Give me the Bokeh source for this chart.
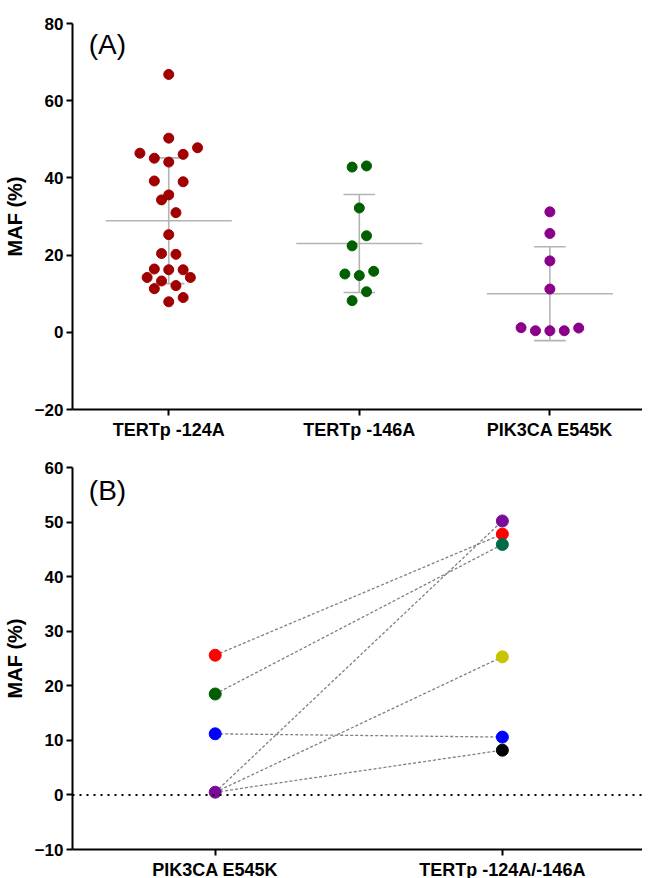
from bokeh.plotting import figure
from bokeh.layouts import column
from bokeh.models import Range1d, FixedTicker, Label, Span, ColumnDataSource
from bokeh.embed import file_html
from bokeh.resources import INLINE

# ---------------- Data: panel A ----------------
categories_a = ["TERTp -124A", "TERTp -146A", "PIK3CA E545K"]
tert124 = [66.8, 50.3, 47.8, 46.4, 46.1, 45.1, 44.1, 39.2, 39.0, 35.6, 34.3, 31.0, 25.3,
           20.4, 20.2, 16.4, 16.2, 16.2, 14.2, 14.2, 13.3, 12.1, 11.3, 9.0, 7.9]
tert146 = [43.1, 42.8, 32.2, 25.0, 22.4, 15.8, 15.1, 14.7, 10.5, 8.2]
pik3ca = [31.2, 25.6, 18.5, 11.2, 1.2, 1.1, 0.4, 0.4, 0.4]
means_a = [28.9, 23.0, 10.0]
sds_a = [16.3, 12.7, 12.15]
# swarm slot of each dot (layout, not data)
slots124 = [0, 0, 4, -4, 2, -2, 0, -2, 2, 0, -1, 1, 0, -1, 1, -2, 0, 2, -3, 3, -1, 1, -2, 2, 0]
slots146 = [1, -1, 0, 1, -1, 2, -2, 0, 1, -1]
slotspik = [0, 0, 0, 0, -4, 4, -2, 0, 2]
y_ticks_a = [-20, 0, 20, 40, 60, 80]

# ---------------- Data: panel B ----------------
categories_b = ["PIK3CA E545K", "TERTp -124A/-146A"]
left_vals = [25.6, 18.5, 11.2, 0.5]
right_vals = [50.2, 47.8, 45.9, 25.3, 10.6, 8.2]
pair_left = [25.6, 18.5, 11.2, 0.5, 0.5, 0.5]
pair_right = [47.8, 45.9, 10.6, 50.2, 25.3, 8.2]
y_ticks_b = [-10, 0, 10, 20, 30, 40, 50, 60]

# ---------------- Styles ----------------
FONT = "Liberation Sans"
colors_a = ["#a00000", "#006000", "#8b008b"]
left_colors = ["#ff0000", "#006000", "#0000ff", "#7a0a9a"]
right_colors = ["#7a0a9a", "#ff0000", "#006b4b", "#c8c400", "#0000ff", "#000000"]
GREY = "#b4b4b4"
SLOT = 0.0378


def style(p, xticks, xlabels, yticks):
    p.outline_line_color = None
    p.xgrid.visible = False
    p.ygrid.visible = False
    p.background_fill_color = "white"
    p.border_fill_color = "white"
    for ax in (p.xaxis[0], p.yaxis[0]):
        ax.axis_line_width = 2
        ax.axis_line_color = "black"
        ax.major_tick_line_width = 2
        ax.major_tick_line_color = "black"
        ax.major_tick_out = 6
        ax.major_tick_in = 0
        ax.minor_tick_line_color = None
        ax.major_label_text_font = FONT
        ax.major_label_text_font_style = "bold"
        ax.major_label_text_color = "black"
    p.xaxis.ticker = FixedTicker(ticks=xticks)
    p.xaxis.major_label_overrides = {t: l for t, l in zip(xticks, xlabels)}
    p.xaxis.major_label_text_font_size = "18px"
    p.xaxis.major_label_standoff = 4
    p.yaxis.ticker = FixedTicker(ticks=yticks)
    p.yaxis.major_label_overrides = {t: (str(t).replace("-", "\u2212")) for t in yticks}
    p.yaxis.major_label_text_font_size = "17px"
    p.yaxis.major_label_standoff = 3
    p.yaxis.axis_label = "MAF (%)"
    p.yaxis.axis_label_text_font = FONT
    p.yaxis.axis_label_text_font_style = "bold"
    p.yaxis.axis_label_text_font_size = "20px"
    p.yaxis.axis_label_standoff = 6
    p.yaxis.axis_label_text_color = "black"


# ---------------- Panel A ----------------
pA = figure(width=642, height=450, x_range=Range1d(0.495, 3.486), y_range=Range1d(-20, 80),
            output_backend="svg", toolbar_location=None,
            min_border_left=64, min_border_top=23, min_border_bottom=41, min_border_right=0)
style(pA, [1, 2, 3], categories_a, y_ticks_a)

groups = [tert124, tert146, pik3ca]
slots = [slots124, slots146, slotspik]
for i, (vals, sl) in enumerate(zip(groups, slots)):
    xc = i + 1
    m, s = means_a[i], sds_a[i]
    # mean line and SD whiskers
    pA.segment(x0=[xc - 0.331], x1=[xc + 0.331], y0=[m], y1=[m], line_color=GREY, line_width=1.6)
    pA.segment(x0=[xc], x1=[xc], y0=[m - s], y1=[m + s], line_color=GREY, line_width=1.6)
    pA.segment(x0=[xc - 0.083] * 2, x1=[xc + 0.083] * 2, y0=[m - s, m + s], y1=[m - s, m + s],
               line_color=GREY, line_width=1.6)
    src = ColumnDataSource(dict(x=[xc + k * SLOT for k in sl], y=vals))
    pA.scatter("x", "y", source=src, size=10, fill_color=colors_a[i], line_color=colors_a[i])

pA.add_layout(Label(x=0.58, y=74.6, text="(A)", text_font=FONT, text_font_size="28px",
                    text_color="black", text_baseline="alphabetic"))

# ---------------- Panel B ----------------
pB = figure(width=642, height=432, x_range=Range1d(0.503, 2.488), y_range=Range1d(-10, 60),
            output_backend="svg", toolbar_location=None,
            min_border_left=64, min_border_top=17, min_border_bottom=32, min_border_right=0)
style(pB, [1, 2], categories_b, y_ticks_b)

pB.add_layout(Span(location=0, dimension="width", line_color="black", line_width=2,
                   line_dash="2 5"))
pB.segment(x0=[1] * len(pair_left), x1=[2] * len(pair_right), y0=pair_left, y1=pair_right,
           line_color="#808080", line_width=1.3, line_dash="3 2")
pB.scatter([1] * len(left_vals), left_vals, size=12, fill_color=left_colors, line_color=left_colors)
pB.scatter([2] * len(right_vals), right_vals, size=12, fill_color=right_colors, line_color=right_colors)

pB.add_layout(Label(x=0.56, y=55.7, text="(B)", text_font=FONT, text_font_size="28px",
                    text_color="black", text_baseline="alphabetic"))

layout = column(pA, pB)
open("out.html", "w").write(file_html(layout, INLINE))
